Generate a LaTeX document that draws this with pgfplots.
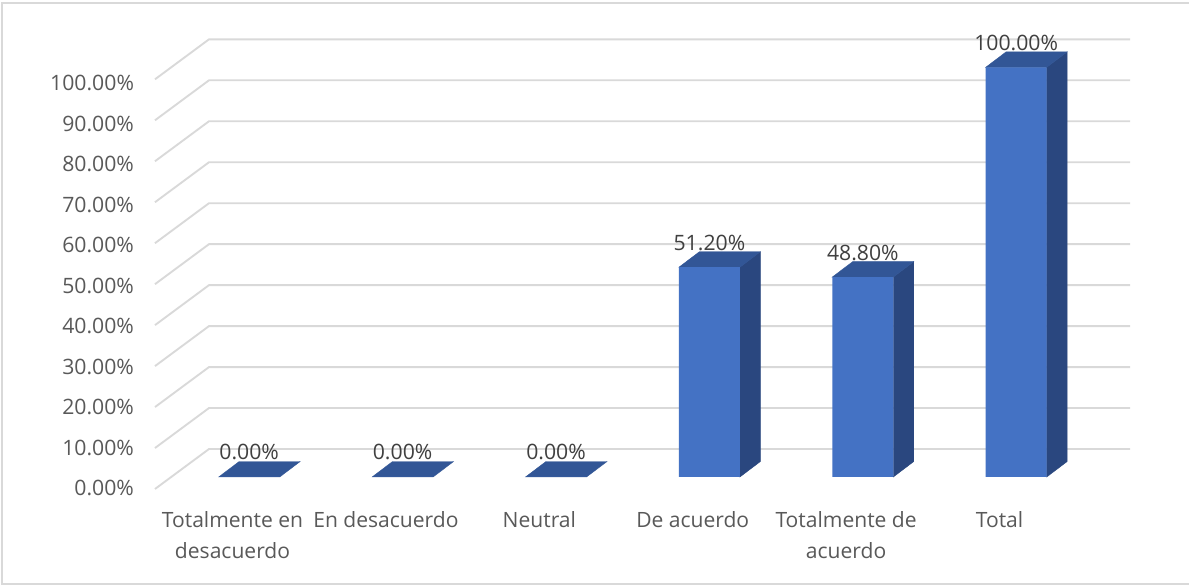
\documentclass[border=0pt]{standalone}
\usepackage{fontspec}
\setmainfont{Open Sans}
\usepackage{pgfplots}
\pgfplotsset{compat=1.18}
\definecolor{barfront}{HTML}{4472C4}
\definecolor{bartop}{HTML}{325696}
\definecolor{barside}{HTML}{2A477F}
\definecolor{gridc}{HTML}{D9D9D9}
\definecolor{ticktext}{HTML}{595959}
\definecolor{valtext}{HTML}{404040}
\newcommand{\gridline}[2]{\addplot[gridc,line width=1.4pt,forget plot] coordinates {(-0.6141,#1) (-0.2621,#2) (5.7419,#2)};}
\newcommand{\face}[2]{\addplot[fill=#1,draw=#1,line width=0.3pt,forget plot] coordinates {#2} -- cycle;}
\begin{document}
\begin{tikzpicture}[x=0.75pt,y=0.75pt]
\path[use as bounding box] (0,0) rectangle (1189,585);
\fill[white] (0,0) rectangle (1189,585);
\begin{scope}
\clip (0,0) rectangle (1189,585);
\draw[gridc,line width=1.4pt] (1192,582) -- (2,582) -- (2,1.3) -- (1192,1.3);
\end{scope}
\begin{axis}[
  at={(116.25pt,72pt)},anchor=south west,
  scale only axis,width=731.25pt,height=337.125pt,
  xmin=-0.6141,xmax=5.7419,ymin=-2.93,ymax=106.79,
  clip=false,
  axis line style={draw=none},
  tick style={draw=none},
  xtick={0,1,2,3,4,5},
  xticklabels={{Totalmente en\\desacuerdo},{En desacuerdo},{Neutral},{De acuerdo},{Totalmente de\\acuerdo},{Total}},
  xticklabel style={align=center,font=\fontsize{15.8pt}{22.9pt}\selectfont,text=ticktext,xshift=-12.5pt,yshift=-13.5pt},
  ytick={-2.43,7.45,17.34,27.22,37.11,46.99,56.87,66.76,76.64,86.53,96.41},
  yticklabels={0.00\%,10.00\%,20.00\%,30.00\%,40.00\%,50.00\%,60.00\%,70.00\%,80.00\%,90.00\%,100.00\%},
  yticklabel style={anchor=east,inner sep=0pt,font=\fontsize{15.9pt}{20pt}\selectfont,text=ticktext,xshift=-15.6pt,yshift=-1pt},
]
% back wall and side wall gridlines
\gridline{-2.93}{6.83}
\gridline{7.07}{16.83}
\gridline{17.07}{26.83}
\gridline{27.07}{36.83}
\gridline{37.07}{46.83}
\gridline{47.07}{56.83}
\gridline{57.07}{66.83}
\gridline{67.07}{76.83}
\gridline{77.07}{86.83}
\gridline{87.07}{96.83}
\gridline{97.07}{106.83}
% side faces of the bars
\face{barside}{(3.1988,0) (3.3324,3.78) (3.3324,54.98) (3.1988,51.2)}
\face{barside}{(4.1988,0) (4.3324,3.78) (4.3324,52.58) (4.1988,48.8)}
\face{barside}{(5.1988,0) (5.3324,3.78) (5.3324,103.78) (5.1988,100)}
% top faces of the bars
\face{bartop}{(-0.1988,0) (0.1988,0) (0.3324,3.78) (-0.0652,3.78)}
\face{bartop}{(0.8012,0) (1.1988,0) (1.3324,3.78) (0.9348,3.78)}
\face{bartop}{(1.8012,0) (2.1988,0) (2.3324,3.78) (1.9348,3.78)}
\face{bartop}{(2.8012,51.2) (3.1988,51.2) (3.3324,54.98) (2.9348,54.98)}
\face{bartop}{(3.8012,48.8) (4.1988,48.8) (4.3324,52.58) (3.9348,52.58)}
\face{bartop}{(4.8012,100) (5.1988,100) (5.3324,103.78) (4.9348,103.78)}
% front faces with their value labels
\addplot[ybar,bar width=45.75pt,fill=barfront,draw=none,
  point meta=y,
  nodes near coords={\pgfmathprintnumber[fixed,fixed zerofill,precision=2,assume math mode=true]{\pgfplotspointmeta}\%},
  every node near coord/.style={anchor=center,yshift=18.4pt,inner sep=0pt,font=\fontsize{15.9pt}{20pt}\selectfont,text=valtext},
] coordinates {(0,0) (1,0) (2,0) (3,51.2) (4,48.8) (5,100)};
\end{axis}
\end{tikzpicture}
\end{document}
